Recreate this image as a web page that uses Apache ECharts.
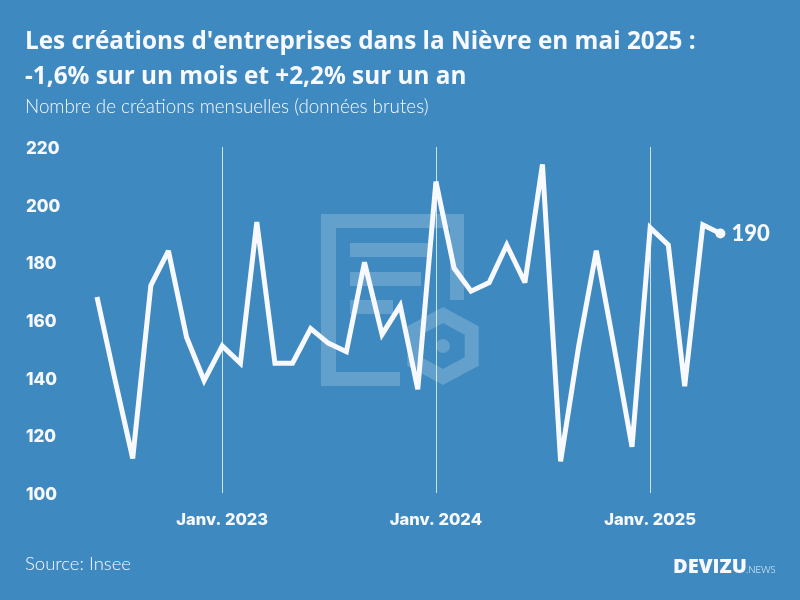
<!DOCTYPE html>
<html>
<head>
<meta charset="utf-8">
<style>
  html, body { margin: 0; padding: 0; background: #3d89c0; }
  #chart { width: 800px; height: 600px; }
</style>
<script src="https://cdn.jsdelivr.net/npm/echarts@6/dist/echarts.min.js"></script>
</head>
<body>
<div id="chart"></div>
<script>
const months = [
  '2022-06-01', '2022-07-01', '2022-08-01', '2022-09-01', '2022-10-01', '2022-11-01', '2022-12-01',
  '2023-01-01', '2023-02-01', '2023-03-01', '2023-04-01', '2023-05-01', '2023-06-01', '2023-07-01',
  '2023-08-01', '2023-09-01', '2023-10-01', '2023-11-01', '2023-12-01',
  '2024-01-01', '2024-02-01', '2024-03-01', '2024-04-01', '2024-05-01', '2024-06-01', '2024-07-01',
  '2024-08-01', '2024-09-01', '2024-10-01', '2024-11-01', '2024-12-01',
  '2025-01-01', '2025-02-01', '2025-03-01', '2025-04-01', '2025-05-01',
];
const creations = [
  168, 140, 112, 172, 184, 154, 139,
  151, 145, 194, 145, 145, 157, 152, 149, 180, 155, 165, 136,
  208, 178, 170, 173, 186, 173, 214, 111, 151, 184, 150, 116,
  192, 186, 137, 193, 190,
];
const januaries = ['2023-01-01', '2024-01-01', '2025-01-01'];

const white = '#f8f9ff';
const logoColor = 'rgba(255,255,255,0.2)';

// months are spaced by their real length, so the x axis works on timestamps
const monthTimes = months.map(m => Date.parse(m));
const januaryTimes = januaries.map(m => Date.parse(m));

// background logo, sits behind the line
const hexagon = [];
for (let i = 0; i < 6; i++) {
  const a = Math.PI / 6 + i * Math.PI / 3;
  hexagon.push([443 + 33.1 * Math.cos(a), 346 + 31 * Math.sin(a)]);
}
const watermark = [
  { type: 'polygon', shape: { points: [[321, 214], [464, 214], [464, 300], [450, 300], [450, 228], [336, 228], [336, 372], [400, 372], [400, 386], [321, 386]] }, style: { fill: logoColor } },
  { type: 'rect', shape: { x: 350, y: 243, width: 78, height: 14 }, style: { fill: logoColor } },
  { type: 'rect', shape: { x: 350, y: 272, width: 71, height: 14 }, style: { fill: logoColor } },
  { type: 'rect', shape: { x: 350, y: 300, width: 43, height: 14 }, style: { fill: logoColor } },
  { type: 'polygon', shape: { points: hexagon }, style: { fill: 'none', stroke: logoColor, lineWidth: 14 } },
  { type: 'circle', shape: { cx: 443, cy: 346, r: 7 }, style: { fill: logoColor } },
];

const chart = echarts.init(document.getElementById('chart'));
chart.setOption({
  animation: false,
  backgroundColor: '#3d89c0',
  textStyle: { fontFamily: 'Lato' },
  title: [
    { text: "Les créations d'entreprises dans la Nièvre en mai 2025 :", left: 20, top: 25, textStyle: { color: white, fontFamily: 'Open Sans', fontWeight: 700, fontSize: 24.3 } },
    { text: '-1,6% sur un mois et +2,2% sur un an', left: 20, top: 60, textStyle: { color: white, fontFamily: 'Open Sans', fontWeight: 700, fontSize: 24.3 } },
    { text: 'Nombre de créations mensuelles (données brutes)', left: 20, top: 92, textStyle: { color: white, fontFamily: 'Lato', fontWeight: 300, fontSize: 18.8 } },
    { text: 'Source: Insee', left: 20, top: 550, textStyle: { color: white, fontFamily: 'Lato', fontWeight: 300, fontSize: 18.5 } },
  ],
  graphic: [
    ...watermark,
    { type: 'text', x: 673, y: 557, style: { text: 'DEVIZU', fill: white, font: '800 20px "Open Sans"' } },
    { type: 'text', x: 746, y: 565, style: { text: '.NEWS', fill: white, font: '300 9.5px "Lato"' } },
  ],
  grid: { left: 97, right: 79.6, top: 147, bottom: 107 },
  xAxis: {
    type: 'value',
    min: monthTimes[0],
    max: monthTimes[monthTimes.length - 1],
    axisLine: { show: false },
    axisTick: { show: false, customValues: januaryTimes },
    axisLabel: {
      customValues: januaryTimes,
      formatter: value => 'Janv. ' + new Date(value).getUTCFullYear(),
      margin: 19,
      color: white,
      fontFamily: 'Inter',
      fontWeight: 800,
      fontSize: 16.5,
    },
    splitLine: { show: true, lineStyle: { color: 'rgba(255,255,255,0.75)', width: 1 } },
  },
  yAxis: {
    type: 'value',
    min: 100,
    max: 220,
    interval: 20,
    axisLine: { show: false },
    axisTick: { show: false },
    splitLine: { show: false },
    axisLabel: {
      align: 'left',
      margin: 71,
      formatter: '{tick|{value}}',
      rich: {
        tick: { padding: [4, 0, 0, 0], color: white, fontFamily: 'Inter', fontWeight: 800, fontSize: 17 },
      },
    },
  },
  series: [
    {
      type: 'line',
      showSymbol: true,
      symbol: 'none',
      lineStyle: { color: white, width: 5, join: 'miter', cap: 'butt', miterLimit: 3 },
      data: creations.map((v, i) => i < creations.length - 1 ? [monthTimes[i], v] : {
        value: [monthTimes[i], v],
        symbol: 'circle',
        symbolSize: 10,
        itemStyle: { color: white },
        label: { show: true, position: 'right', distance: 6, formatter: String(v), color: white, fontFamily: 'Lato', fontWeight: 900, fontSize: 22 },
      }),
    },
  ],
});
</script>
</body>
</html>
